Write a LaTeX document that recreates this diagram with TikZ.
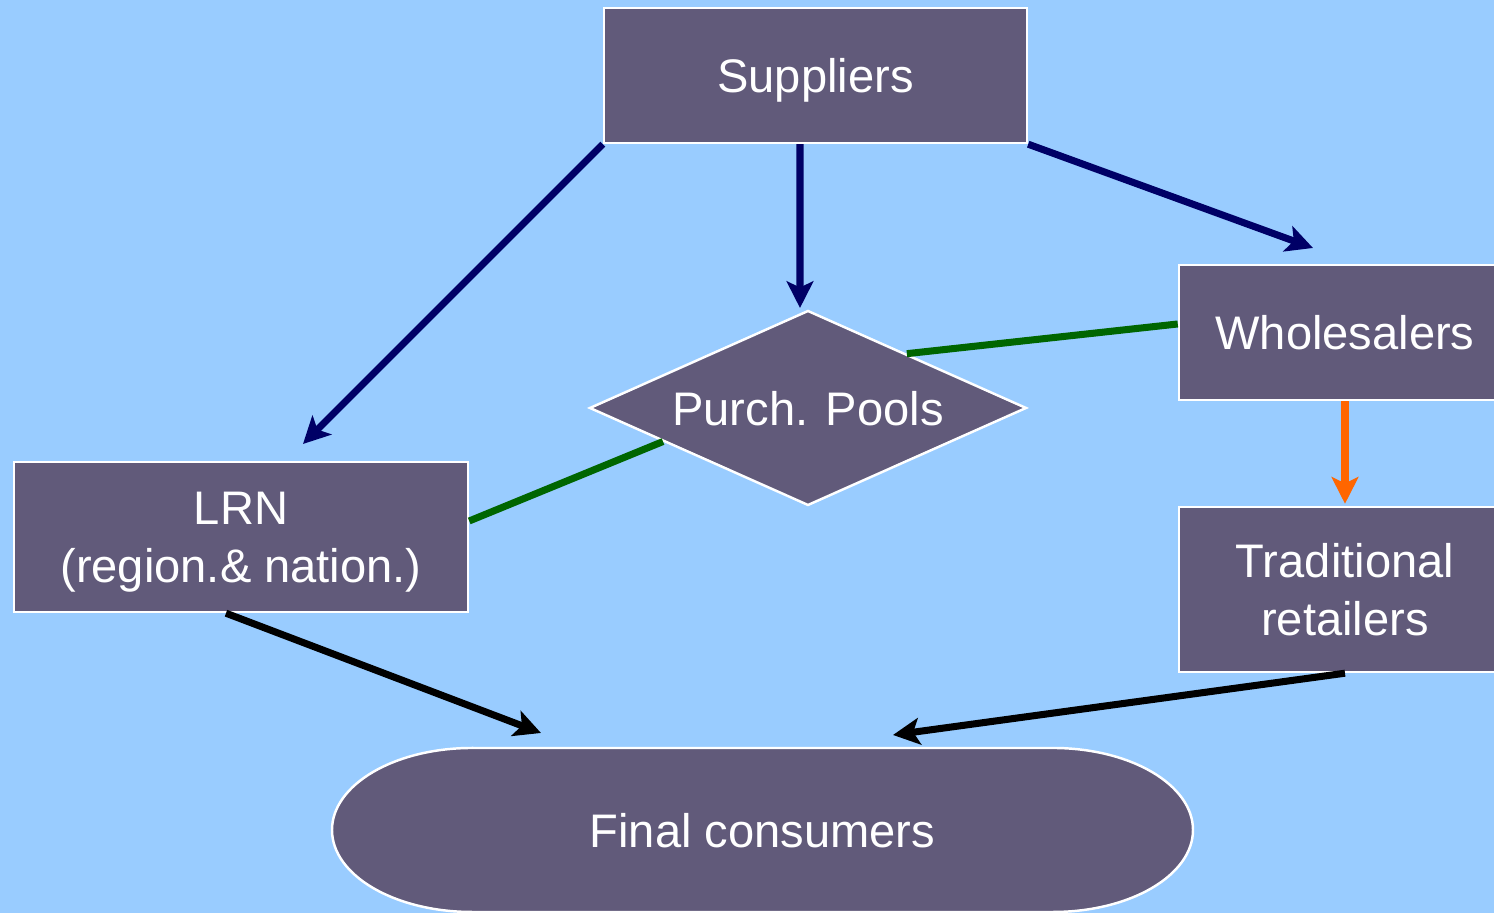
\documentclass[tikz,border=0pt]{standalone}
\usepackage{fontspec}
\setmainfont{Liberation Sans}
\usepackage{tikz}
\usetikzlibrary{positioning,shapes.geometric,arrows.meta,calc}

\definecolor{bgblue}{HTML}{99CCFF}
\definecolor{boxfill}{HTML}{615A7A}
\definecolor{navyline}{HTML}{000066}
\definecolor{greenline}{HTML}{006600}
\definecolor{orangeline}{HTML}{FF6600}

\tikzset{
  label text/.style={text=white, text depth=0pt, font=\fontsize{13.4}{16.4}\selectfont},
  box/.style={draw=white, line width=0.7pt, fill=boxfill, label text,
              align=center, inner sep=0pt},
  pool/.style={box, diamond, aspect=2.24, minimum width=4.37cm, minimum height=1.95cm},
  flow/.style={line width=2pt, -{Stealth[length=7.6pt,width=7.6pt,inset=1.8pt]}},
  link/.style={line width=2pt, greenline}
}

\begin{document}
\begin{tikzpicture}
      \useasboundingbox (0, 0) rectangle (14.94, 9.13);
      \clip (0, 0) rectangle (14.94, 9.13);
      \fill [bgblue] (0, 0) rectangle (14.94, 9.13);
      % boxes
      \node (sup) [box, minimum width=4.23cm, minimum height=1.35cm] at (8.155, 8.375) {Suppliers};
      \node (whole) [box, minimum width=3.32cm, minimum height=1.35cm] at (13.45, 5.805) {Wholesalers};
      \node (retail) [box, minimum width=3.32cm, minimum height=1.65cm] at (13.45, 3.235) {Traditional\\retailers};
      \node (lrn) [box, minimum width=4.54cm, minimum height=1.5cm] at (2.41, 3.76) {LRN\\(region.\& nation.)};
      \node (pools) [pool] at (8.08, 5.05) {Purch. Pools};
      % final consumers
      \draw [draw=white, line width=0.7pt, fill=boxfill]
            (4.72, 1.65) -- (10.53, 1.65) arc (90:-90:1.4 and 0.82)
            -- (4.72, 0.01) arc (270:90:1.4 and 0.82) -- cycle;
      \node (final) [label text] at (7.625, 0.83) {Final consumers};
      % arrow ends
      \coordinate (lrnTip) at (3.03, 4.69);
      \coordinate (poolTip) at (8.00, 6.05);
      \coordinate (wholeTip) at (13.13, 6.65);
      \coordinate (leftTip) at (5.41, 1.80);
      \coordinate (rightTip) at (8.93, 1.78);
      \draw [flow, navyline] (sup.south west) -- (lrnTip);
      \draw [flow, navyline] ([xshift=-0.155cm]sup.south) -- (poolTip);
      \draw [flow, navyline] (sup.south east) -- (wholeTip);
      \draw [link] ($(pools.north)!0.45!(pools.east)$) -- ([yshift=0.085cm]whole.west);
      \draw [link] ($(pools.west)!0.34!(pools.south)$) -- ([yshift=0.16cm]lrn.east);
      \draw [flow, orangeline] (whole.south) -- ([yshift=0.02cm]retail.north);
      \draw [flow, black] ([xshift=-0.15cm]lrn.south) -- (leftTip);
      \draw [flow, black] (retail.south) -- (rightTip);
\end{tikzpicture}
\end{document}
